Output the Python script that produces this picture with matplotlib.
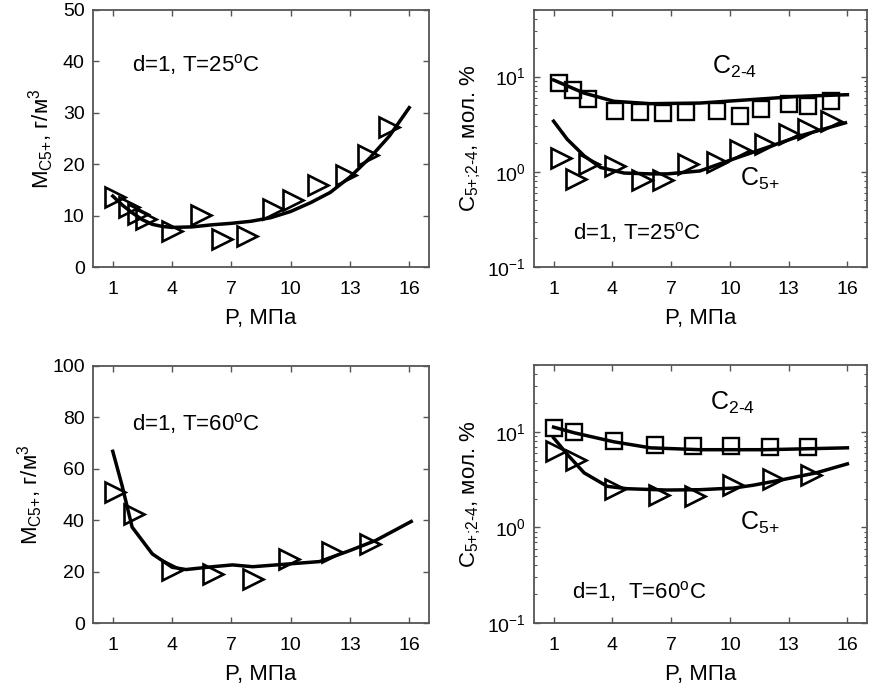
import matplotlib
matplotlib.use("Agg")
import matplotlib.pyplot as plt
from matplotlib.ticker import FixedLocator, LogLocator, NullFormatter

plt.rcParams['font.family'] = ['Liberation Sans', 'DejaVu Sans']
plt.rcParams['mathtext.fontset'] = 'custom'
plt.rcParams['mathtext.rm'] = 'Liberation Sans'
plt.rcParams['mathtext.it'] = 'Liberation Sans'
plt.rcParams['mathtext.bf'] = 'Liberation Sans'
plt.rcParams['mathtext.default'] = 'regular'

# ---- Data: top-left, T=25C, M_C5+ ----
tl_px = [1.1, 1.8, 2.3, 2.7, 4.0, 5.45, 6.55, 7.8, 9.1, 10.1, 11.4, 12.8, 13.9, 15.0]
tl_py = [13.6, 11.6, 10.4, 9.4, 7.1, 10.1, 5.5, 6.0, 11.2, 13.1, 15.9, 17.9, 21.8, 27.3]
tl_cx = [1, 1.5, 2, 2.5, 3, 3.5, 4, 5, 6, 7, 8, 9, 10, 11, 12, 13, 14, 15, 16]
tl_cy = [13.8, 12.0, 10.5, 9.2, 8.3, 7.9, 7.7, 7.8, 8.2, 8.5, 8.9, 9.6, 10.8, 12.5, 14.5, 17.5, 21.2, 25.5, 31.0]

# ---- Data: top-right, T=25C, concentrations ----
tr_sq_x = [1.29, 2.01, 2.76, 4.16, 5.43, 6.58, 7.75, 9.32, 10.54, 11.6, 13.04, 13.97, 15.15]
tr_sq_y = [8.66, 7.26, 5.8, 4.32, 4.25, 4.15, 4.2, 4.32, 3.89, 4.57, 5.19, 4.95, 5.49]
tr_c24_x = [1.0, 2.56, 4.08, 5.94, 8.47, 11.0, 13.55, 16.0]
tr_c24_y = [9.2, 6.7, 5.5, 5.19, 5.27, 5.71, 6.2, 6.45]
tr_tri_x = [1.37, 2.13, 2.8, 4.16, 5.5, 6.6, 7.88, 9.32, 10.5, 11.77, 13.04, 13.97, 15.15]
tr_tri_y = [1.41, 0.84, 1.2, 1.15, 0.81, 0.81, 1.2, 1.27, 1.69, 1.94, 2.47, 2.78, 3.4]
tr_c5_x = [1.0, 1.7, 2.56, 3.4, 4.6, 5.94, 6.8, 8.47, 10.17, 11.86, 13.55, 15.9]
tr_c5_y = [3.4, 2.19, 1.47, 1.11, 0.97, 0.95, 0.95, 1.02, 1.36, 1.79, 2.37, 3.27]

# ---- Data: bottom-left, T=60C, M_C5+ ----
bl_px = [1.1, 2.07, 4.0, 6.05, 8.08, 9.94, 12.1, 14.0]
bl_py = [50.9, 42.5, 20.8, 19.1, 17.1, 24.9, 27.5, 30.8]
bl_cx = [1.0, 1.47, 1.98, 3.0, 4.0, 4.7, 6.05, 7.06, 8.08, 9.94, 11.46, 13.0, 14.3, 16.1]
bl_cy = [66.8, 53.5, 37.3, 26.9, 21.7, 20.8, 21.9, 22.6, 21.9, 23.0, 23.9, 28.2, 32.1, 39.5]

# ---- Data: bottom-right, T=60C, concentrations ----
br_sq_x = [1.03, 2.05, 4.08, 6.19, 8.14, 10.08, 12.03, 13.97]
br_sq_y = [11.0, 10.0, 7.98, 7.25, 7.19, 7.08, 7.0, 7.0]
br_c24_x = [1.0, 2.05, 4.08, 5.94, 8.47, 11.86, 16.0]
br_c24_y = [11.2, 9.77, 7.86, 6.8, 6.5, 6.5, 6.8]
br_tri_x = [1.12, 2.13, 4.16, 6.36, 8.22, 10.17, 12.2, 14.14]
br_tri_y = [6.27, 5.13, 2.54, 2.2, 2.11, 2.8, 3.24, 3.57]
br_c5_x = [1.0, 1.71, 2.56, 3.74, 4.75, 6.78, 8.47, 10.17, 11.18, 12.7, 14.4, 16.0]
br_c5_y = [8.65, 5.78, 3.72, 2.69, 2.54, 2.46, 2.48, 2.58, 2.76, 3.16, 3.72, 4.62]

xticks = [1, 4, 7, 10, 13, 16]
xlabel = "P, МПа"
ylabel_m = r"M$_{\text{C5+}}$, г/м$^{3}$"
ylabel_c = r"C$_{\text{5+;2-4}}$, мол. %"

fig = plt.figure(figsize=(8.69, 6.92), dpi=100)
W, H = 869, 692
def ax_at(l, t, r, b):
    return fig.add_axes([l / W, 1 - b / H, (r - l) / W, (b - t) / H])

ax_tl = ax_at(93, 10, 429, 267)
ax_tr = ax_at(534, 10, 867, 267)
ax_bl = ax_at(93, 366, 429, 623)
ax_br = ax_at(534, 365, 867, 623)

FS = 14
LFS = 16
spine_c = '#555555'
lw = 2.5
tri_kw = dict(marker='>', ms=14, mfc='none', mec='black', mew=1.9, ls='none')
sq_kw = dict(marker='s', ms=11, mfc='none', mec='black', mew=1.7, ls='none')

def style(ax, log=False):
    ax.set_xlim(0, 17)
    ax.set_xticks(xticks)
    ax.set_xticklabels([str(v) for v in xticks])
    for s in ax.spines.values():
        s.set_color(spine_c)
        s.set_linewidth(1.3)
    ax.tick_params(direction='in', which='major', length=4, width=1, color=spine_c,
                   top=True, right=True, labelsize=FS, pad=6)
    ax.tick_params(axis='x', which='major', pad=10)
    ax.tick_params(direction='in', which='minor', length=2, width=0.8, color=spine_c,
                   top=False, right=True)
    ax.set_xlabel(xlabel, fontsize=LFS, labelpad=7)
    if log:
        ax.set_yscale('log')
        ax.set_ylim(0.1, 50)
        ax.yaxis.set_major_locator(FixedLocator([0.1, 1, 10]))
        ax.yaxis.set_minor_locator(LogLocator(base=10, subs=range(2, 10)))
        ax.yaxis.set_minor_formatter(NullFormatter())
        ax.set_yticklabels([r"10$^{-1}$", r"10$^{0}$", r"10$^{1}$"])
        ax.set_ylabel(ylabel_c, fontsize=LFS, labelpad=3)
    else:
        ax.set_ylabel(ylabel_m, fontsize=LFS, labelpad=5)

# top-left
ax_tl.plot(tl_cx, tl_cy, color='black', lw=lw)
ax_tl.plot(tl_px, tl_py, **tri_kw)
style(ax_tl)
ax_tl.set_ylim(0, 50)
ax_tl.set_yticks([0, 10, 20, 30, 40, 50])
ax_tl.text(1.98, 39.3, r"d=1, T=25$^{o}$C", fontsize=LFS, va='center', ha='left')

# top-right
ax_tr.plot(tr_c24_x, tr_c24_y, color='black', lw=lw)
ax_tr.plot(tr_c5_x, tr_c5_y, color='black', lw=lw)
ax_tr.plot(tr_sq_x, tr_sq_y, **sq_kw)
ax_tr.plot(tr_tri_x, tr_tri_y, **tri_kw)
style(ax_tr, log=True)
ax_tr.text(9.07, 10.8, r"C$_{\text{2-4}}$", fontsize=LFS + 2, va='baseline', ha='left')
ax_tr.text(10.5, 0.715, r"C$_{\text{5+}}$", fontsize=LFS + 2, va='baseline', ha='left')
ax_tr.text(2.0, 0.233, r"d=1, T=25$^{o}$C", fontsize=LFS, va='center', ha='left')

# bottom-left
ax_bl.plot(bl_cx, bl_cy, color='black', lw=lw)
ax_bl.plot(bl_px, bl_py, **tri_kw)
style(ax_bl)
ax_bl.set_ylim(0, 100)
ax_bl.set_yticks([0, 20, 40, 60, 80, 100])
ax_bl.text(1.98, 77.5, r"d=1, T=60$^{o}$C", fontsize=LFS, va='center', ha='left')

# bottom-right
ax_br.plot(br_c24_x, br_c24_y, color='black', lw=lw)
ax_br.plot(br_c5_x, br_c5_y, color='black', lw=lw)
ax_br.plot(br_sq_x, br_sq_y, **sq_kw)
ax_br.plot(br_tri_x, br_tri_y, **tri_kw)
style(ax_br, log=True)
ax_br.text(8.98, 17.1, r"C$_{\text{2-4}}$", fontsize=LFS + 2, va='baseline', ha='left')
ax_br.text(10.5, 0.945, r"C$_{\text{5+}}$", fontsize=LFS + 2, va='baseline', ha='left')
ax_br.text(1.96, 0.213, r"d=1,  T=60$^{o}$C", fontsize=LFS, va='center', ha='left')

fig.savefig("out.png", dpi=100)
